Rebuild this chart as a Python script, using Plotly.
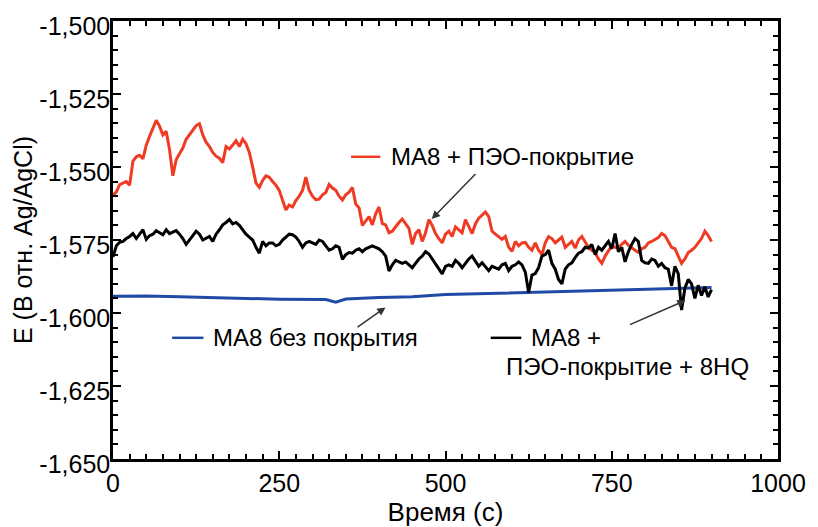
import plotly.graph_objects as go

# ---- data (potential, mV vs Ag/AgCl) ----
t_step = 5
red_mv = [-1559.8,-1558.5,-1556.0,-1555.4,-1555.0,-1556.2,-1548.0,-1546.5,-1546.0,-1547.2,
          -1542.5,-1539.5,-1537.0,-1534.0,-1536.0,-1539.0,-1537.8,-1544.0,-1553.0,-1547.5,
          -1545.5,-1543.5,-1540.5,-1539.0,-1537.5,-1535.8,-1535.2,-1539.0,-1541.5,-1543.0,
          -1545.0,-1546.3,-1547.0,-1548.5,-1543.0,-1543.8,-1542.5,-1541.0,-1543.0,-1540.5,
          -1542.0,-1545.0,-1550.0,-1555.5,-1557.0,-1554.6,-1553.0,-1553.5,-1555.0,-1556.2,
          -1558.0,-1561.5,-1564.7,-1563.0,-1563.7,-1561.5,-1560.0,-1558.0,-1553.5,-1558.0,
          -1560.0,-1561.2,-1561.0,-1559.5,-1558.7,-1556.0,-1557.2,-1558.0,-1560.0,-1561.3,
          -1559.5,-1558.6,-1557.0,-1562.7,-1564.0,-1570.0,-1568.5,-1567.0,-1569.8,-1566.0,
          -1563.7,-1569.4,-1569.8,-1572.5,-1572.0,-1570.4,-1569.0,-1567.8,-1569.5,-1571.0,
          -1576.5,-1572.8,-1571.5,-1575.5,-1572.5,-1568.0,-1570.0,-1572.8,-1574.5,-1576.0,
          -1573.0,-1572.0,-1573.8,-1570.5,-1571.5,-1572.5,-1568.0,-1570.5,-1572.8,-1569.5,
          -1567.5,-1566.5,-1565.4,-1567.0,-1572.0,-1573.0,-1574.0,-1574.8,-1573.8,-1577.5,
          -1578.9,-1575.5,-1577.0,-1576.0,-1575.8,-1577.5,-1578.5,-1576.0,-1578.5,-1580.0,
          -1576.0,-1573.8,-1574.5,-1576.0,-1575.0,-1574.0,-1577.5,-1576.5,-1575.5,-1577.8,
          -1575.0,-1573.8,-1575.5,-1577.5,-1578.5,-1579.3,-1581.5,-1583.0,-1580.5,-1578.5,
          -1577.0,-1577.5,-1577.8,-1576.5,-1575.5,-1576.8,-1577.8,-1578.5,-1579.2,-1578.0,
          -1577.5,-1576.0,-1575.5,-1574.8,-1574.2,-1572.8,-1573.5,-1575.5,-1577.5,-1578.0,
          -1580.5,-1583.0,-1581.5,-1579.3,-1578.5,-1577.5,-1576.0,-1574.5,-1572.0,-1573.5,
          -1575.5]
black_mv = [-1580.8,-1577.0,-1575.8,-1575.5,-1574.5,-1573.8,-1572.8,-1574.5,-1573.0,-1571.5,
            -1574.8,-1573.5,-1573.0,-1571.8,-1572.5,-1573.2,-1571.5,-1572.8,-1572.3,-1571.8,
            -1573.0,-1574.5,-1576.5,-1574.8,-1573.5,-1572.0,-1573.0,-1575.0,-1574.5,-1573.8,
            -1575.5,-1573.0,-1571.5,-1569.8,-1569.0,-1568.0,-1569.5,-1569.0,-1570.0,-1571.5,
            -1573.0,-1574.0,-1575.0,-1577.5,-1579.5,-1575.5,-1577.0,-1576.0,-1576.0,-1577.0,
            -1576.5,-1575.0,-1574.0,-1573.0,-1573.2,-1574.0,-1575.5,-1577.5,-1576.0,-1575.5,
            -1576.0,-1576.5,-1575.0,-1575.5,-1577.0,-1578.5,-1578.0,-1577.0,-1577.5,-1581.6,
            -1580.0,-1579.3,-1579.5,-1578.5,-1578.0,-1579.0,-1578.0,-1577.5,-1577.0,-1577.5,
            -1578.0,-1579.0,-1580.5,-1585.6,-1583.5,-1582.0,-1582.5,-1583.0,-1582.5,-1583.5,
            -1584.5,-1583.0,-1581.5,-1580.5,-1579.0,-1579.8,-1581.5,-1582.8,-1584.5,-1586.6,
            -1584.0,-1583.5,-1584.0,-1582.0,-1583.0,-1584.5,-1583.0,-1581.5,-1580.5,-1582.5,
            -1584.0,-1582.8,-1584.0,-1585.5,-1584.0,-1584.5,-1585.0,-1583.5,-1583.0,-1585.5,
            -1584.0,-1583.5,-1582.5,-1583.5,-1586.0,-1593.0,-1587.0,-1586.5,-1584.5,-1580.5,
            -1580.0,-1578.5,-1583.0,-1585.0,-1588.5,-1590.0,-1585.0,-1583.5,-1582.8,-1581.0,
            -1579.5,-1579.0,-1577.5,-1577.8,-1576.5,-1580.0,-1577.5,-1578.5,-1577.0,-1575.5,
            -1578.0,-1572.8,-1579.0,-1577.5,-1582.5,-1579.0,-1576.5,-1574.5,-1575.5,-1582.0,
            -1582.8,-1583.0,-1581.5,-1582.0,-1584.0,-1583.0,-1584.5,-1585.0,-1590.7,-1584.0,
            -1586.5,-1599.0,-1591.5,-1588.5,-1590.0,-1595.0,-1590.5,-1594.0,-1591.0,-1594.5,
            -1592.0]
blue_t = [0, 50, 100, 150, 200, 250, 300, 320, 335, 350, 400, 450, 500, 550, 600, 650, 700, 750, 800, 850, 900]
blue_mv = [-1594.3, -1594.2, -1594.4, -1594.8, -1595.0, -1595.3, -1595.5, -1595.4, -1596.3, -1595.2,
           -1594.7, -1594.4, -1593.7, -1593.4, -1593.1, -1592.8, -1592.5, -1592.2, -1592.0, -1591.6, -1591.3]

y_ticks = [-1.650, -1.625, -1.600, -1.575, -1.550, -1.525, -1.500]
y_ticktext = ["-1,650", "-1,625", "-1,600", "-1,575", "-1,550", "-1,525", "-1,500"]
x_ticks = [0, 250, 500, 750, 1000]
x_ticktext = ["0", "250", "500", "750", "1000"]

label_red = "МА8 + ПЭО-покрытие"
label_blue = "МА8 без покрытия"
label_black_1 = "МА8 +"
label_black_2 = "ПЭО-покрытие + 8HQ"

RED = "#ef3b24"
BLUE = "#1f4aa5"
BLACK = "#000000"

t_red = [i * t_step for i in range(len(red_mv))]
t_black = [i * t_step for i in range(len(black_mv))]

fig = go.Figure()
fig.add_trace(go.Scatter(x=blue_t, y=[v / 1000 for v in blue_mv], mode="lines",
                         line=dict(color=BLUE, width=3), showlegend=False))
fig.add_trace(go.Scatter(x=t_red, y=[v / 1000 for v in red_mv], mode="lines",
                         line=dict(color=RED, width=3), showlegend=False))
fig.add_trace(go.Scatter(x=t_black, y=[v / 1000 for v in black_mv], mode="lines",
                         line=dict(color=BLACK, width=3), showlegend=False))

FONT = "Liberation Sans, Arial, sans-serif"

# legend-like labels
def seg(x0, x1, y, color):
    fig.add_shape(type="line", xref="x", yref="y", x0=x0, x1=x1, y0=y, y1=y,
                  line=dict(color=color, width=2.5))

seg(358, 402, -1.5465, RED)
seg(89, 136, -1.6085, BLUE)
seg(568, 614, -1.6085, BLACK)

def label(x, y, text):
    fig.add_annotation(x=x, y=y, xref="x", yref="y", text=text, showarrow=False,
                       xanchor="left", yanchor="middle",
                       font=dict(family=FONT, size=24, color="black"))

label(415, -1.5465, label_red)
label(147, -1.6085, label_blue)
label(626, -1.6085, label_black_1)
label(588, -1.6182, label_black_2)

def arrow(xt, yt, xh, yh):
    fig.add_annotation(x=xh, y=yh, ax=xt, ay=yt, xref="x", yref="y", axref="x", ayref="y",
                       text="", showarrow=True, arrowhead=2, arrowsize=1.1,
                       arrowwidth=1.5, arrowcolor="#333333", standoff=0)

arrow(547.3, -1.5519, 479.3, -1.5678)
arrow(365.4, -1.6052, 409.8, -1.5981)
arrow(775.1, -1.6042, 861.0, -1.5957)

axis_common = dict(showline=True, linecolor="black", linewidth=2.5, mirror="allticks",
                   ticks="inside", ticklen=8, tickwidth=2, tickcolor="black",
                   showgrid=False, zeroline=False,
                   tickfont=dict(family=FONT, size=25, color="black"))

fig.update_xaxes(range=[0, 1000], tickvals=x_ticks, ticktext=x_ticktext,
                 minor=dict(ticks="inside", ticklen=5, tickwidth=1.5, tickcolor="black", dtick=25,
                            showgrid=False),
                 title=dict(text="Время (с)", font=dict(family=FONT, size=26, color="black"), standoff=0),
                 **axis_common)
fig.update_yaxes(range=[-1.650, -1.500], tickvals=y_ticks, ticktext=y_ticktext,
                 minor=dict(ticks="inside", ticklen=5, tickwidth=1.5, tickcolor="black", dtick=0.005,
                            showgrid=False),
                 ticklabelstandoff=-5, ticklabelshift=5,
                 title=dict(text="E (В отн. Ag/AgCl)", font=dict(family=FONT, size=25, color="black"), standoff=0),
                 **axis_common)

fig.update_layout(width=818, height=527, margin=dict(l=113, r=29, t=21, b=61),
                  plot_bgcolor="white", paper_bgcolor="white",
                  font=dict(family=FONT, color="black"))

fig.write_html("out.html")
